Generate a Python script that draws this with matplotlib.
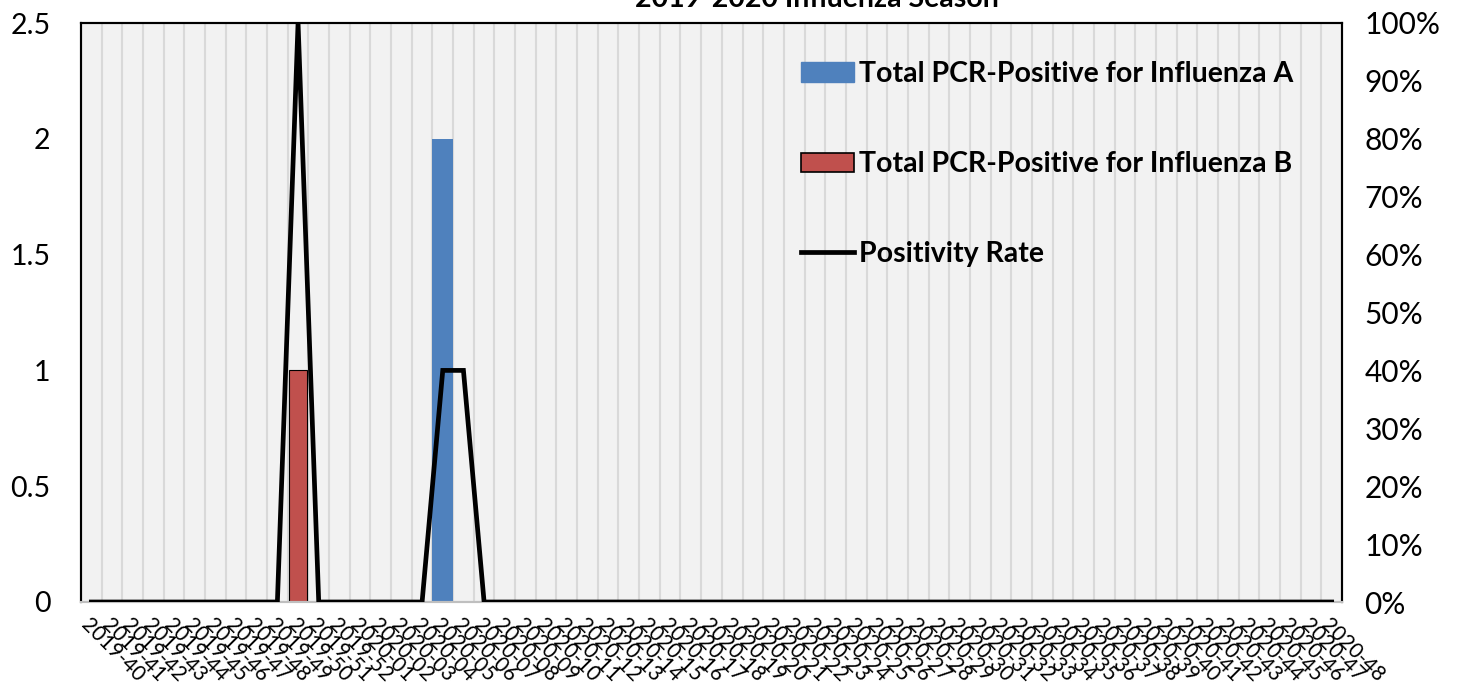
import matplotlib
matplotlib.use('Agg')
import matplotlib.pyplot as plt
import matplotlib.ticker as mticker
from matplotlib.patches import Patch
from matplotlib.lines import Line2D

plt.rcParams['font.family'] = ['Lato', 'DejaVu Sans']

# weeks of the season
weeks = ['2019-40', '2019-41', '2019-42', '2019-43', '2019-44', '2019-45', '2019-46',
         '2019-47', '2019-48', '2019-49', '2019-50', '2019-51', '2019-52',
         '2020-01', '2020-02', '2020-03', '2020-04', '2020-05', '2020-06', '2020-07',
         '2020-08', '2020-09', '2020-10', '2020-11', '2020-12', '2020-13', '2020-14',
         '2020-15', '2020-16', '2020-17', '2020-18', '2020-19', '2020-20', '2020-21',
         '2020-22', '2020-23', '2020-24', '2020-25', '2020-26', '2020-27', '2020-28',
         '2020-29', '2020-30', '2020-31', '2020-32', '2020-33', '2020-34', '2020-35',
         '2020-36', '2020-37', '2020-38', '2020-39', '2020-40', '2020-41', '2020-42',
         '2020-43', '2020-44', '2020-45', '2020-46', '2020-47', '2020-48']

# total PCR positive, influenza A
flu_a = [0, 0, 0, 0, 0, 0, 0, 0, 0, 0, 0, 0, 0,
         0, 0, 0, 0, 2, 0, 0, 0, 0, 0, 0, 0, 0, 0, 0, 0, 0, 0, 0, 0, 0, 0, 0,
         0, 0, 0, 0, 0, 0, 0, 0, 0, 0, 0, 0, 0, 0, 0, 0, 0, 0, 0, 0, 0, 0, 0, 0, 0]

# total PCR positive, influenza B
flu_b = [0, 0, 0, 0, 0, 0, 0, 0, 0, 0, 1, 0, 0,
         0, 0, 0, 0, 0, 0, 0, 0, 0, 0, 0, 0, 0, 0, 0, 0, 0, 0, 0, 0, 0, 0, 0,
         0, 0, 0, 0, 0, 0, 0, 0, 0, 0, 0, 0, 0, 0, 0, 0, 0, 0, 0, 0, 0, 0, 0, 0, 0]

# positivity rate (fraction)
pos_rate = [0, 0, 0, 0, 0, 0, 0, 0, 0, 0, 1.0, 0, 0,
            0, 0, 0, 0, 0.4, 0.4, 0, 0, 0, 0, 0, 0, 0, 0, 0, 0, 0, 0, 0, 0, 0, 0, 0,
            0, 0, 0, 0, 0, 0, 0, 0, 0, 0, 0, 0, 0, 0, 0, 0, 0, 0, 0, 0, 0, 0, 0, 0, 0]

blue = '#4F81BD'
red = '#C0504D'

fig = plt.figure(figsize=(14.61, 6.93), dpi=100)
ax = fig.add_axes([81 / 1461, 1 - 602 / 693, (1342 - 81) / 1461, (602 - 23) / 693])
ax.set_facecolor('#F2F2F2')

x = list(range(len(weeks)))
ax.bar(x, flu_a, width=1.0, color=blue, zorder=2)
ax.bar(x, flu_b, width=0.9, color=red, edgecolor='black', linewidth=0.8, zorder=2)

# category boundary gridlines
for i in range(len(weeks) - 1):
    ax.axvline(i + 0.5, color='#D9D9D9', lw=1.5, zorder=1)

ax.set_xlim(-0.5, len(weeks) - 0.5)
ax.set_ylim(0, 2.5)
ax.set_yticks([0, 0.5, 1, 1.5, 2, 2.5])
ax.set_yticklabels(['0', '0.5', '1', '1.5', '2', '2.5'])
ax.set_xticks(x)
ax.set_xticklabels(weeks, rotation=-45, ha='left', va='top', rotation_mode='anchor',
                   fontsize=15)
ax.tick_params(axis='both', length=0)
ax.tick_params(axis='y', labelsize=20.5, pad=22)
ax.tick_params(axis='x', pad=9)

ax2 = ax.twinx()
ax2.plot(x, pos_rate, color='black', lw=3.4, solid_joinstyle='miter', zorder=3)
ax2.set_ylim(0, 1)
ax2.set_yticks([i / 10 for i in range(11)])
ax2.yaxis.set_major_formatter(mticker.PercentFormatter(1.0, decimals=0))
ax2.tick_params(axis='y', length=0, labelsize=21.5, pad=16)

for a in (ax, ax2):
    for s in ('left', 'top', 'right'):
        a.spines[s].set_color('black')
        a.spines[s].set_linewidth(1.5)
    a.spines['bottom'].set_color('#BFBFBF')
    a.spines['bottom'].set_linewidth(1.5)

handles = [Patch(facecolor=blue, edgecolor=blue),
           Patch(facecolor=red, edgecolor='black', linewidth=1.2),
           Line2D([0], [0], color='black', lw=3.4)]
labels = ['Total PCR-Positive for Influenza A', 'Total PCR-Positive for Influenza B',
          'Positivity Rate']
fig.legend(handles, labels, loc='upper left', bbox_to_anchor=(801 / 1461, 1 - 61 / 693),
           frameon=False, prop={'weight': 'bold', 'size': 20.5}, handlelength=1.85,
           handleheight=0.65, handletextpad=0.2, labelspacing=2.25, borderpad=0,
           borderaxespad=0)

fig.text(817 / 1461, 1 - 7 / 693, '2019-2020 Influenza Season', ha='center',
         va='baseline', fontsize=20.5, fontweight='bold')

fig.savefig('out.png', dpi=100)
